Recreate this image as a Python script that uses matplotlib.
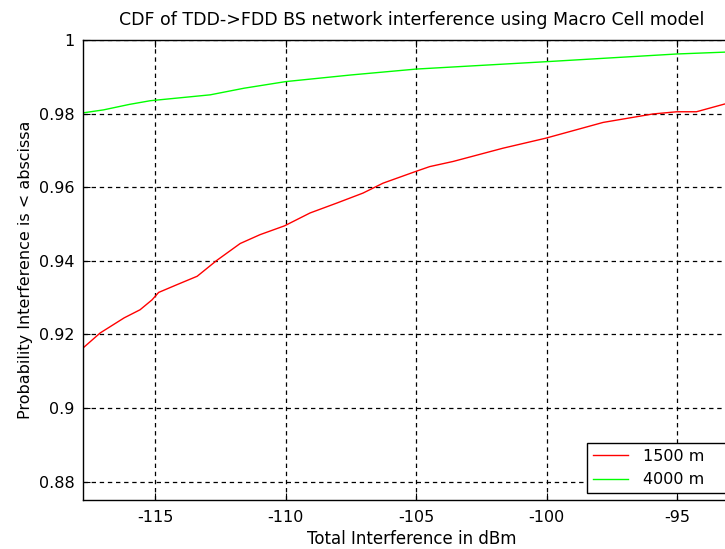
import matplotlib
matplotlib.use("Agg")
import matplotlib.pyplot as plt

plt.rcParams['font.family'] = ['DejaVu Sans']

# curve: total interference (dBm) vs CDF
x_1500 = [-117.78, -117.12, -116.2, -115.59, -115.13, -114.88, -114.18, -113.4,
          -112.65, -111.75, -110.99, -110.05, -109.07, -108.04, -107.04,
          -106.27, -105.01, -104.48, -103.58, -101.67, -100.04, -97.83, -95.92,
          -95.0, -94.25, -93.17, -92.54]
cdf_1500 = [0.9163, 0.9204, 0.9245, 0.9267, 0.9294, 0.9314, 0.9335, 0.9358,
            0.9401, 0.9447, 0.9471, 0.9495, 0.9530, 0.9557, 0.9584,
            0.9611, 0.9643, 0.9656, 0.9670, 0.9706, 0.9733, 0.9776, 0.9799,
            0.9805, 0.9805, 0.9826, 0.9831]

x_4000 = [-117.78, -117.0, -116.0, -115.2, -112.9, -111.6, -110.0, -107.5,
          -105.0, -100.03, -95.0, -93.17, -92.54]
cdf_4000 = [0.9802, 0.9810, 0.9825, 0.9835, 0.9851, 0.9869, 0.9887, 0.9905,
            0.9921, 0.9941, 0.9962, 0.9967, 0.9968]

x_ticks = [-115, -110, -105, -100, -95]
y_ticks = [0.88, 0.9, 0.92, 0.94, 0.96, 0.98, 1.0]
y_ticklabels = ['0.88', '0.9', '0.92', '0.94', '0.96', '0.98', '1']

W, H = 725, 549
fig = plt.figure(figsize=(W / 100, H / 100), dpi=100)
# axes run past the right edge of the figure, as in the cropped original
left, right, top, bottom = 83, 741, 40, 500
ax = fig.add_axes([left / W, 1 - bottom / H, (right - left) / W, (bottom - top) / H])

fs = 11.5
ax.plot(x_1500, cdf_1500, color='#ff0000', lw=1.0, label='1500 m')
ax.plot(x_4000, cdf_4000, color='#00ff00', lw=1.0, label='4000 m')

ax.set_xlim(-117.78, -92.54)
ax.set_ylim(0.875, 1.0)
ax.set_xticks(x_ticks)
ax.set_xticklabels([str(t) for t in x_ticks])
ax.set_yticks(y_ticks)
ax.set_yticklabels(y_ticklabels)
ax.tick_params(direction='in', top=True, right=True, length=5, labelsize=fs,
               color='black')
ax.tick_params(axis='x', pad=7)
ax.tick_params(axis='y', pad=6)
ax.grid(True, color='black', linestyle=(0, (3.5, 3)), linewidth=0.9)
for s in ax.spines.values():
    s.set_linewidth(1.0)

ax.set_title('CDF of TDD->FDD BS network interference using Macro Cell model',
             fontsize=12.5, pad=11)
ax.set_xlabel('Total Interference in dBm', fontsize=12, labelpad=4)
ax.set_ylabel('Probability Interference is < abscissa', fontsize=fs, labelpad=4)

leg = ax.legend(loc='upper left', mode='expand',
                bbox_to_anchor=(587 / W, 1 - 443 / H - 0.01, 160 / W, 0.01),
                bbox_transform=fig.transFigure, fontsize=fs, fancybox=False,
                framealpha=1, edgecolor='black', borderaxespad=0,
                handlelength=2.2, handletextpad=0.95, labelspacing=0.55,
                borderpad=0.35)
leg.get_frame().set_linewidth(1.0)

fig.savefig('out.png', dpi=100)
